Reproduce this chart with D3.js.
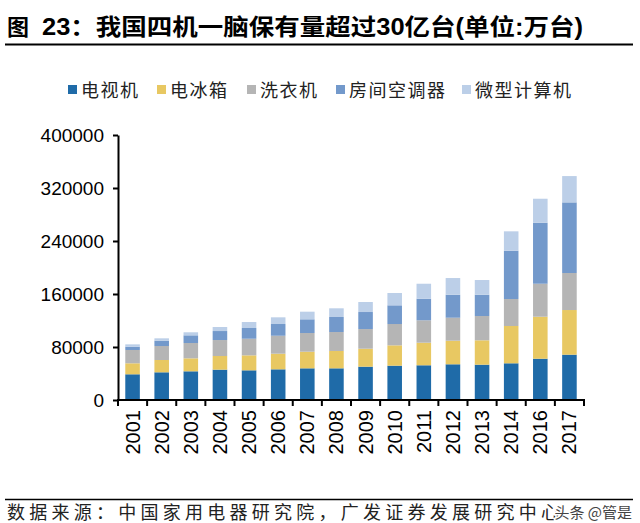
<!DOCTYPE html>
<html><head><meta charset="utf-8">
<script src="https://cdn.jsdelivr.net/npm/d3@7/dist/d3.min.js"></script>
<style>
html,body{margin:0;padding:0;background:#fff;}
svg{display:block;}
</style></head>
<body>
<script>
const years = ["2001","2002","2003","2004","2005","2006","2007","2008","2009","2010","2011","2012","2013","2014","2016","2017"];
const seriesNames = ["电视机","电冰箱","洗衣机","房间空调器","微型计算机"];
const tv      = [38800,41800,43300,45800,44800,46300,47800,47800,50300,51800,52400,53900,53300,55400,62300,68400];
const fridge  = [16600,18600,19600,20600,22600,23600,25100,26200,27100,30700,34100,35600,36800,56300,63400,67400];
const washer  = [20100,21100,23100,24100,25100,27100,28200,28600,29700,32200,33800,34700,36700,40700,49800,55900];
const aircon  = [4900,8000,11600,13600,16200,17700,20700,22700,25700,28200,32600,34700,32100,72900,92100,106600];
const pc      = [3600,3600,4600,6100,9000,10100,11500,13100,15100,18600,22600,25200,22200,29300,36200,39700];
const yTicks  = [0,80000,160000,240000,320000,400000];
const colors  = ["#1F6BA8","#E8C862","#B5B5B5","#7399CB","#BCCFE8"];
const titleHead = "图";
const titleBody = "23：我国四机一脑保有量超过30亿台(单位:万台)";
const source = "数据来源：中国家用电器研究院，广发证券发展研究中心";
const watermark = "头条 @管是";

const W = 640, H = 523;
const svg = d3.select("body").append("svg").attr("width", W).attr("height", H);

// Title
svg.append("text").attr("x", 7).attr("y", 35)
  .attr("font-family", "'Noto Sans CJK SC',sans-serif")
  .attr("font-weight", "bold").attr("font-size", 22).attr("fill", "#000")
  .text(titleHead);
svg.append("text").attr("x", 42).attr("y", 35)
  .attr("font-family", "'Liberation Sans','Noto Sans CJK SC',sans-serif")
  .attr("font-weight", "bold").attr("font-size", 23).attr("fill", "#000")
  .attr("textLength", 541).attr("lengthAdjust", "spacingAndGlyphs")
  .text(titleBody);
svg.append("line").attr("x1", 5).attr("x2", 633).attr("y1", 44.5).attr("y2", 44.5)
  .attr("stroke", "#000").attr("stroke-width", 2);

// Data stacking
const rows = years.map((y, i) => ({year: y, s0: tv[i], s1: fridge[i], s2: washer[i], s3: aircon[i], s4: pc[i]}));
const keys = ["s0","s1","s2","s3","s4"];
const stacked = d3.stack().keys(keys)(rows);

const x = d3.scaleBand().domain(years).range([118, 584]).paddingInner(0.5).paddingOuter(0.25);
const y = d3.scaleLinear().domain([0, 400000]).range([400, 135]);

// bars
const g = svg.append("g");
stacked.forEach((layer, li) => {
  g.selectAll(null).data(layer).enter().append("rect")
    .attr("x", d => x(d.data.year))
    .attr("width", x.bandwidth())
    .attr("y", d => y(d[1]))
    .attr("height", d => y(d[0]) - y(d[1]))
    .attr("fill", colors[li]);
});

// Y axis
const yAxis = d3.axisLeft(y).tickValues(yTicks).tickFormat(d3.format("d"))
  .tickSize(5).tickSizeOuter(0).tickPadding(9);
const ya = svg.append("g").attr("transform", "translate(118,0)").call(yAxis);
ya.select(".domain").attr("stroke", "#000").attr("stroke-width", 2);
ya.selectAll(".tick line").attr("stroke", "#000").attr("stroke-width", 2);
ya.selectAll("text").attr("font-family", "'Liberation Sans',Arial,sans-serif").attr("font-size", 19).attr("fill", "#000");

// X axis line
svg.append("line").attr("x1", 117).attr("x2", 585).attr("y1", 400).attr("y2", 400)
  .attr("stroke", "#000").attr("stroke-width", 2);
// X ticks at band boundaries
const step = x.step();
const bounds = years.map(d => x(d) - step * x.paddingInner() / 2);
bounds.push(x(years[years.length - 1]) + x.bandwidth() + step * x.paddingInner() / 2);
svg.selectAll(null).data(bounds).enter().append("line")
  .attr("x1", d => d).attr("x2", d => d).attr("y1", 400).attr("y2", 406)
  .attr("stroke", "#000").attr("stroke-width", 2);
// X labels
svg.selectAll(null).data(years).enter().append("text")
  .attr("transform", d => `translate(${x(d) + x.bandwidth() / 2 + 7},${410}) rotate(-90)`)
  .attr("text-anchor", "end")
  .attr("font-family", "'Liberation Sans',Arial,sans-serif").attr("font-size", 20).attr("fill", "#000")
  .text(d => d);

// Legend
const legendX = [68, 157, 247, 336, 462];
const lg = svg.append("g");
seriesNames.forEach((n, i) => {
  lg.append("rect").attr("x", legendX[i]).attr("y", 85).attr("width", 9).attr("height", 9).attr("fill", colors[i]);
  lg.append("text").attr("x", legendX[i] + 13).attr("y", 97)
    .attr("font-family", "'Noto Sans CJK SC',sans-serif").attr("font-size", 18).attr("fill", "#222")
    .attr("letter-spacing", 1.5)
    .text(n);
});

// Footer
svg.append("line").attr("x1", 5).attr("x2", 633).attr("y1", 499.5).attr("y2", 499.5)
  .attr("stroke", "#000").attr("stroke-width", 1.5);
svg.append("text").attr("x", 7).attr("y", 519)
  .attr("font-family", "'Noto Sans CJK SC',sans-serif").attr("font-size", 18).attr("fill", "#222")
  .attr("textLength", 552).attr("lengthAdjust", "spacing")
  .text(source);
svg.append("text").attr("x", 632).attr("y", 518).attr("text-anchor", "end")
  .attr("font-family", "'Noto Sans CJK SC',sans-serif").attr("font-size", 15).attr("fill", "#444")
  .attr("stroke", "#fff").attr("stroke-width", 3).attr("paint-order", "stroke")
  .text(watermark);
</script>
</body></html>
